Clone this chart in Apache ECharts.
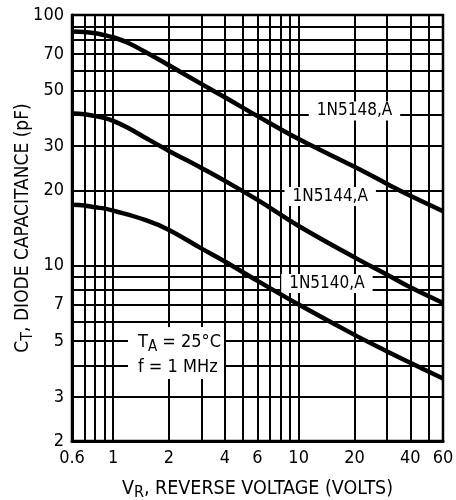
<!DOCTYPE html>
<html><head><meta charset="utf-8">
<script src="https://cdn.jsdelivr.net/npm/echarts@6/dist/echarts.min.js"></script>
<style>html,body{margin:0;padding:0;background:#fff}#c{width:456px;height:500px}</style>
</head><body><div id="c"></div>
<script>
// Reverse voltage (V) grid and tick labels
var xGrid = [0.6,0.7,0.8,0.9,1,2,3,4,5,6,7,8,9,10,20,30,40,50,60];
var xLabels = [0.6,1,2,4,6,10,20,40,60];
// Capacitance (pF) grid and tick labels
var yGrid = [2,3,4,5,6,7,8,9,10,20,30,40,50,60,70,80,90,100];
var yLabels = [2,3,5,7,10,20,30,50,70,100];

// Curve points: [V_R, C_T]
var s5148 = [[0.6,86],[0.7,85.6],[0.8,84.5],[0.9,83],[1,81.5],[1.2,77.5],[1.5,71],[2,63],[3,53],[4,47],[6,39.5],[10,32],[20,24.8],[30,21.2],[40,19],[60,16.5]];
var s5144 = [[0.6,40.5],[0.7,40.2],[0.8,39.5],[0.9,38.8],[1,37.8],[1.2,35.5],[1.5,32.3],[2,28.7],[3,24.5],[4,21.8],[6,18.3],[10,14.4],[20,10.8],[30,9.2],[40,8.2],[60,7.1]];
var s5140 = [[0.6,17.5],[0.7,17.4],[0.8,17.1],[0.9,16.9],[1,16.6],[1.5,15.2],[2,13.9],[3,11.7],[4,10.4],[6,8.7],[10,7.0],[20,5.3],[30,4.55],[40,4.1],[60,3.55]];

var names = ['1N5148,A','1N5144,A','1N5140,A'];
var labelPos = [[20,41.4],[14.8,18.9],[14.2,8.5]];

var FONT = "'DejaVu Sans Condensed','Liberation Sans',sans-serif";
var chart = echarts.init(document.getElementById('c'));
function mkSeries(name, data, lp){
  return {
    type:'line', name:name, data:data, smooth:0.4, symbol:'none',
    lineStyle:{color:'#000', width:4.5}, z:5,
    markPoint:{
      symbol:'circle', symbolSize:0, silent:true,
      data:[{coord:lp, value:name}],
      label:{show:true, position:'inside', formatter:name, color:'#000',
        fontFamily:FONT, fontSize:17, backgroundColor:'#fff', padding:[1,8,1,8]}
    }
  };
}
chart.setOption({
  animation:false,
  grid:{left:72, right:13, top:15, bottom:59, show:true, borderColor:'#000', borderWidth:2.5, backgroundColor:'#fff', containLabel:false, outerBoundsMode:'none'},
  xAxis:{
    type:'log', logBase:10, min:0.6, max:60,
    axisLine:{show:true, lineStyle:{color:'#000', width:3}},
    axisTick:{show:true, length:0, customValues:xGrid},
    splitLine:{show:true, lineStyle:{color:'#000', width:2}},
    axisLabel:{customValues:xLabels, color:'#000', fontFamily:FONT, fontSize:18, margin:8,
      formatter:function(v){return String(+Number(v).toPrecision(3));}},
    name:'V{sub|R}, REVERSE VOLTAGE (VOLTS)', nameLocation:'middle', nameGap:35, nameMoveOverlap:false,
    nameTextStyle:{color:'#000', fontFamily:FONT, fontSize:19.5,
      rich:{sub:{fontFamily:FONT, fontSize:16, color:'#000', padding:[9,0,0,0]}}}
  },
  yAxis:{
    type:'log', logBase:10, min:2, max:100,
    axisLine:{show:true, lineStyle:{color:'#000', width:3}},
    axisTick:{show:true, length:0, customValues:yGrid},
    splitLine:{show:true, lineStyle:{color:'#000', width:2}},
    axisLabel:{customValues:yLabels, color:'#000', fontFamily:FONT, fontSize:18, margin:8,
      formatter:function(v){return String(+Number(v).toPrecision(3));}},
    name:'C{sub|T}, DIODE CAPACITANCE (pF)', nameLocation:'middle', nameGap:36, nameMoveOverlap:false,
    nameTextStyle:{color:'#000', fontFamily:FONT, fontSize:19,
      rich:{sub:{fontFamily:FONT, fontSize:16, color:'#000', padding:[9,0,0,0]}}}
  },
  graphic:[
    {type:'rect', left:128, top:327, shape:{width:96, height:52}, style:{fill:'#fff'}, z:3},
    {type:'text', left:138, top:330, z:4, style:{
      text:'T{sub|A} = 25°C\nf = 1 MHz', fill:'#000', fontFamily:FONT, fontSize:18, lineHeight:25,
      rich:{sub:{fontSize:15, fontFamily:FONT, fill:'#000', padding:[9,0,0,0]}}}}
  ],
  series:[
    mkSeries(names[0], s5148, labelPos[0]),
    mkSeries(names[1], s5144, labelPos[1]),
    mkSeries(names[2], s5140, labelPos[2])
  ]
});
</script></body></html>
